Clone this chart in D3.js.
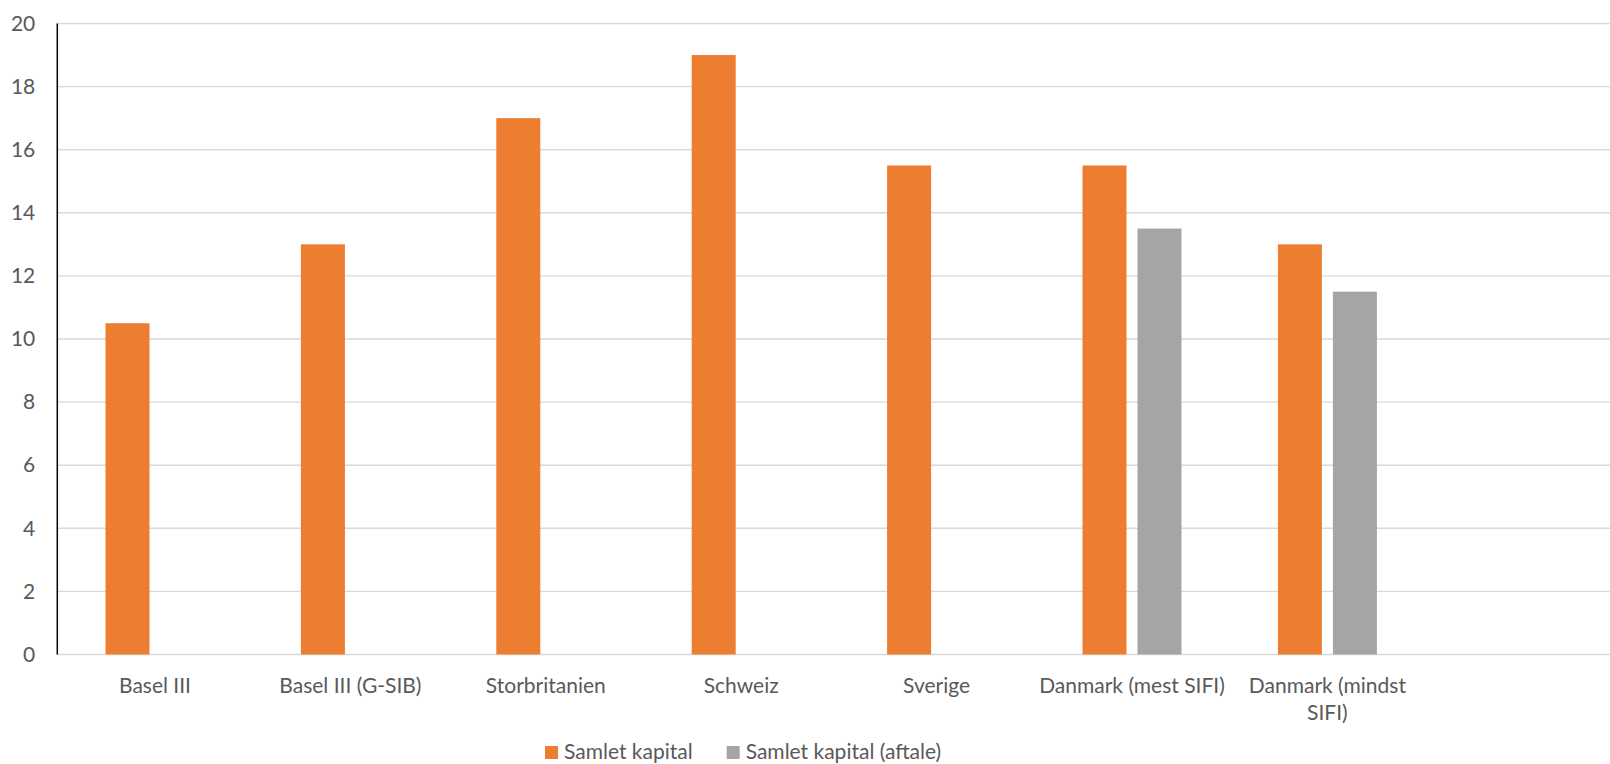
<!DOCTYPE html>
<html>
<head>
<meta charset="utf-8">
<script src="https://cdn.jsdelivr.net/npm/d3@7"></script>
<style>
  html, body { margin: 0; padding: 0; background: #ffffff; }
  svg { display: block; }
  text { font-family: Lato, "Open Sans", sans-serif; fill: #595959; }
</style>
</head>
<body>
<svg id="chart" width="1610" height="764"></svg>
<script>
// Capital requirements by regime (% of risk-weighted assets)
const categories = [
  "Basel III",
  "Basel III (G-SIB)",
  "Storbritanien",
  "Schweiz",
  "Sverige",
  "Danmark (mest SIFI)",
  "Danmark (mindst SIFI)"
];
const seriesNames = ["Samlet kapital", "Samlet kapital (aftale)"];
const samletKapital = [10.5, 13, 17, 19, 15.5, 15.5, 13];
const samletKapitalAftale = [null, null, null, null, null, 13.5, 11.5];
const yTicks = [0, 2, 4, 6, 8, 10, 12, 14, 16, 18, 20];
const colors = ["#ED7D31", "#A5A5A5"];

const svg = d3.select("#chart");
const W = 1610, H = 764;
svg.append("rect").attr("width", W).attr("height", H).attr("fill", "#ffffff");

const plot = { left: 57.3, right: 1620.5, top: 23.5, bottom: 654.5 };

// one trailing empty slot on the category axis
const slots = categories.concat([" "]);
const x0 = d3.scaleBand().domain(slots).range([plot.left, plot.right])
  .paddingInner(0).paddingOuter(0);
const x1 = d3.scaleBand().domain(seriesNames).range([0, x0.bandwidth()])
  .paddingInner(0.2).paddingOuter(0.876);
const y = d3.scaleLinear().domain([0, 20]).range([plot.bottom, plot.top]);

// gridlines
svg.append("g").selectAll("line").data(yTicks).join("line")
  .attr("x1", plot.left).attr("x2", plot.right)
  .attr("y1", d => y(d)).attr("y2", d => y(d))
  .attr("stroke", "#d9d9d9").attr("stroke-width", 1.4);

// y axis labels
const yAxis = d3.axisLeft(y).tickValues(yTicks).tickSize(0).tickPadding(22);
const gy = svg.append("g").attr("transform", `translate(${plot.left},0)`).call(yAxis);
gy.select(".domain").remove();
gy.selectAll("text").style("font-size", "21px").attr("fill", "#595959")
  .style("font-family", "Lato, 'Open Sans', sans-serif");

// bars
const rows = categories.map((c, i) => ({
  cat: c,
  vals: [samletKapital[i], samletKapitalAftale[i]]
}));
const groups = svg.append("g").selectAll("g").data(rows).join("g")
  .attr("transform", d => `translate(${x0(d.cat)},0)`);
groups.selectAll("rect")
  .data(d => d.vals.map((v, k) => ({ name: seriesNames[k], v, k })).filter(e => e.v != null))
  .join("rect")
  .attr("x", e => x1(e.name))
  .attr("width", x1.bandwidth())
  .attr("y", e => y(e.v))
  .attr("height", e => y(0) - y(e.v))
  .attr("fill", e => colors[e.k]);

// vertical axis line
svg.append("line")
  .attr("x1", plot.left).attr("x2", plot.left)
  .attr("y1", y(20)).attr("y2", y(0))
  .attr("stroke", "#000000").attr("stroke-width", 1.5);

// category labels, wrapped to the slot width
const xAxis = d3.axisBottom(x0).tickSize(0).tickPadding(0);
const gx = svg.append("g").attr("transform", `translate(0,${plot.bottom})`).call(xAxis);
gx.select(".domain").remove();
gx.selectAll("text").each(function(label) {
  const t = d3.select(this);
  t.text(null).attr("y", 0).attr("dy", null)
    .style("font-size", "21px").attr("fill", "#595959")
    .style("font-family", "Lato, 'Open Sans', sans-serif");
  const words = label.split(" ");
  const maxW = x0.bandwidth();
  let lines = [], line = [];
  const probe = t.append("tspan");
  for (const w of words) {
    const trial = line.concat([w]).join(" ");
    probe.text(trial);
    if (probe.node().getComputedTextLength() > maxW && line.length) {
      lines.push(line.join(" "));
      line = [w];
    } else {
      line.push(w);
    }
  }
  lines.push(line.join(" "));
  probe.remove();
  lines.forEach((ln, i) => {
    t.append("tspan").attr("x", 0).attr("y", 38 + i * 27).text(ln);
  });
});

// legend
const legend = svg.append("g").attr("transform", "translate(545,0)");
let lx = 0;
seriesNames.forEach((name, k) => {
  const g = legend.append("g").attr("transform", `translate(${lx},0)`);
  g.append("rect").attr("x", 0).attr("y", 746).attr("width", 13).attr("height", 13)
    .attr("fill", colors[k]);
  const tx = g.append("text").attr("x", 19).attr("y", 759)
    .style("font-size", "21px").text(name);
  lx += 19 + tx.node().getComputedTextLength() + 34;
});
</script>
</body>
</html>
